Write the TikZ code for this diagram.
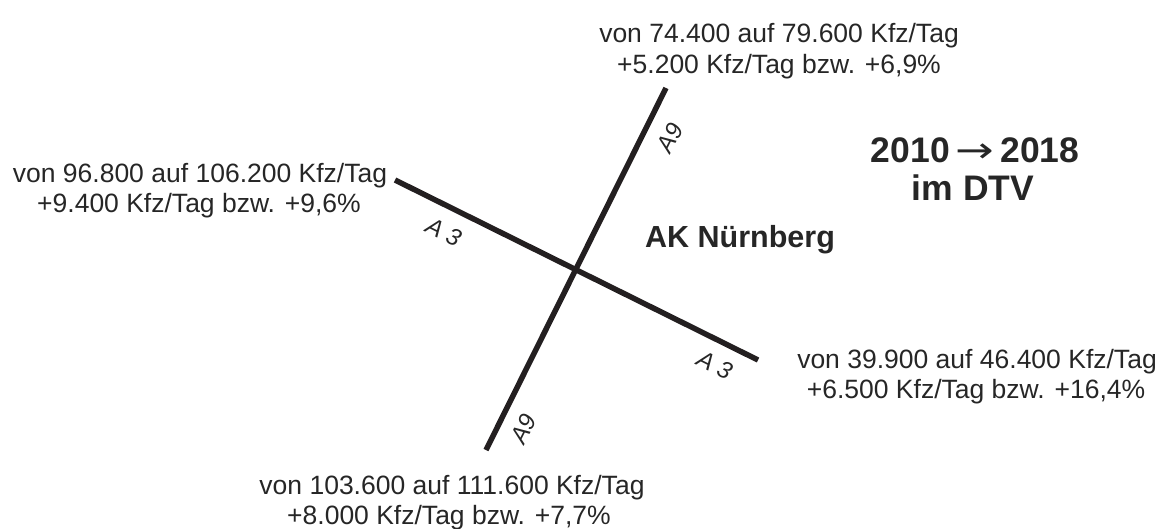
\documentclass[tikz,border=0pt]{standalone}
\usepackage{fontspec}
\setmainfont{Liberation Sans}
\newfontfamily\symfont{DejaVu Sans}
\definecolor{ink}{HTML}{262626}
\definecolor{road}{HTML}{231F20}
\tikzset{
  info/.style={anchor=base, inner sep=0pt, text=ink, font=\fontsize{26.5}{30.5}\selectfont},
  title/.style={anchor=base, inner sep=0pt, text=ink, font=\fontsize{35.5}{40}\selectfont\bfseries},
  place/.style={anchor=base west, inner sep=0pt, text=ink, font=\fontsize{30.5}{36}\selectfont\bfseries},
  roadlabel/.style={inner sep=0pt, text=ink, font=\fontsize{24}{28}\selectfont\itshape},
  roadline/.style={draw=road, line width=5.5pt, line cap=butt}
}
\begin{document}
\begin{tikzpicture}[x=1pt,y=-1pt]
\useasboundingbox (0,0) rectangle (1166,528);
% road end points
\coordinate (a3w) at (395,180);
\coordinate (a3e) at (758,360);
\coordinate (a9n) at (666,88);
\coordinate (a9s) at (486,450);
\draw[roadline] (a3w) -- (a3e);
\draw[roadline] (a9n) -- (a9s);
% road labels
\node[roadlabel, rotate=-26.4] (la3w) at (444,232) {A 3};
\node[roadlabel, rotate=-26.4] (la3e) at (715,365) {A 3};
\node[roadlabel, rotate=63.6] (la9n) at (670,138) {A9};
\node[roadlabel, rotate=63.6] (la9s) at (524,429) {A9};
% traffic texts
\node[info] (tn1) at (779,42.7) {von 74.400 auf 79.600 Kfz/Tag};
\node[info] (tn2) at (779,73.2) {+5.200 Kfz/Tag bzw. +6,9\%};
\node[info] (tw1) at (200,182) {von 96.800 auf 106.200 Kfz/Tag};
\node[info] (tw2) at (199,212.5) {+9.400 Kfz/Tag bzw. +9,6\%};
\node[info] (te1) at (977,368) {von 39.900 auf 46.400 Kfz/Tag};
\node[info] (te2) at (976,398.5) {+6.500 Kfz/Tag bzw. +16,4\%};
\node[info] (ts1) at (452,494) {von 103.600 auf 111.600 Kfz/Tag};
\node[info] (ts2) at (449,524.5) {+8.000 Kfz/Tag bzw. +7,7\%};
% titles
\node[title] (yr) at (975,162) {2010\,{\symfont\mdseries\scalebox{1.3}[1]{→}}\,2018};
\node[title] (dtv) at (973,200) {im DTV};
\node[place] (ak) at (645,247) {AK Nürnberg};
\end{tikzpicture}
\end{document}
